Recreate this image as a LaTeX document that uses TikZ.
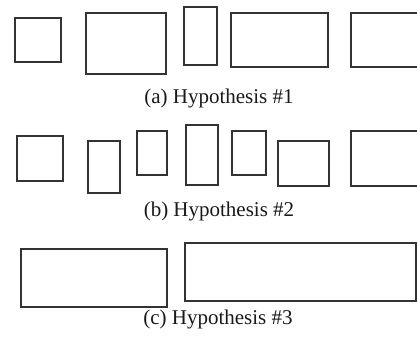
\documentclass[tikz,border=0pt]{standalone}
\usepackage{fontspec}
\setmainfont{Liberation Serif}
\begin{document}
\begin{tikzpicture}[x=1pt,y=-1pt,
  box/.style={draw=black!80,line width=1.2pt,rectangle,inner sep=0pt,outer sep=0pt,anchor=north west},
  captext/.style={font=\fontsize{21}{25}\selectfont,inner sep=0pt,text=black!90}]
\useasboundingbox (0,0) rectangle (417,346);
\clip (0,0) rectangle (417,346);
% (a)
\node[box,minimum width=46pt,minimum height=44pt] (a1) at (15,18) {};
\node[box,minimum width=80pt,minimum height=61pt] (a2) at (86,13) {};
\node[box,minimum width=33pt,minimum height=58pt] (a3) at (184,7) {};
\node[box,minimum width=97pt,minimum height=54pt] (a4) at (231,13) {};
\node[box,minimum width=80pt,minimum height=54pt] (a5) at (351,13) {};
\node[captext] (ca) at (219,98) {(a) Hypothesis \#1};
% (b)
\node[box,minimum width=46pt,minimum height=45pt] (b1) at (17,136) {};
\node[box,minimum width=32pt,minimum height=52pt] (b2) at (88,141) {};
\node[box,minimum width=30pt,minimum height=44pt] (b3) at (137,131) {};
\node[box,minimum width=32pt,minimum height=60pt] (b4) at (186,125) {};
\node[box,minimum width=34pt,minimum height=44pt] (b5) at (232,131) {};
\node[box,minimum width=51pt,minimum height=45pt] (b6) at (278,141) {};
\node[box,minimum width=80pt,minimum height=55pt] (b7) at (351,131) {};
\node[captext] (cb) at (219,211) {(b) Hypothesis \#2};
% (c)
\node[box,minimum width=146pt,minimum height=58pt] (c1) at (21,249) {};
\node[box,minimum width=231pt,minimum height=58pt] (c2) at (185,243) {};
\node[captext] (cc) at (218,319) {(c) Hypothesis \#3};
\end{tikzpicture}
\end{document}
